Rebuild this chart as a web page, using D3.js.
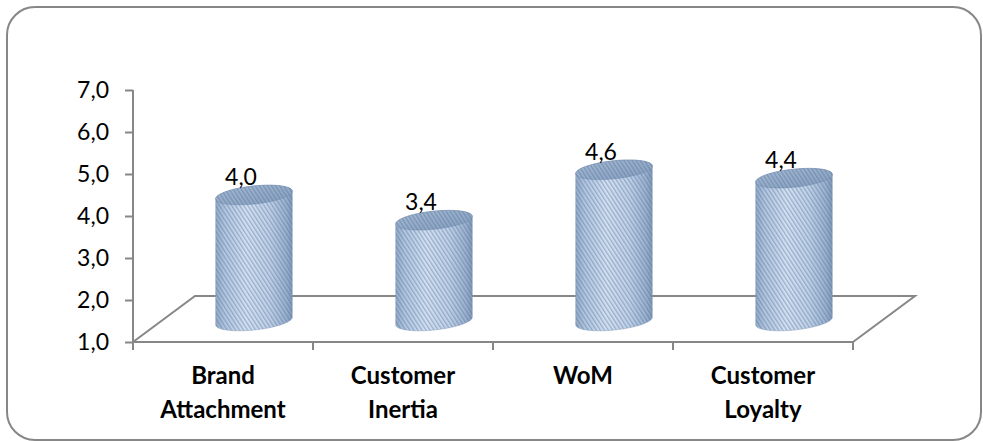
<!DOCTYPE html>
<html>
<head>
<meta charset="utf-8">
<script src="https://cdn.jsdelivr.net/npm/d3@7/dist/d3.min.js"></script>
<style>
  html, body { margin: 0; padding: 0; background: #fff; }
  svg { display: block; }
  text { font-family: Lato, "Open Sans", sans-serif; fill: #000; }
</style>
</head>
<body>
<svg id="chart" width="983" height="441"></svg>
<script>
// Mean scores per construct
const categories = [["Brand", "Attachment"], ["Customer", "Inertia"], ["WoM"], ["Customer", "Loyalty"]];
const values = [4.0, 3.4, 4.6, 4.4];
const yTicks = [1, 2, 3, 4, 5, 6, 7];

const svg = d3.select("#chart");
const fmt = v => d3.format(".1f")(v).replace(".", ",");

// Front plane of the 3D plot area and the depth offset of the floor
const plot = { left: 133, right: 853, top: 90, bottom: 342 };
const depth = { dx: 62, dy: -46 };
const mid = { dx: depth.dx / 2, dy: -21 };

const x = d3.scaleBand().domain(d3.range(categories.length)).range([plot.left, plot.right]).padding(0);
const y = d3.scaleLinear().domain([1, 7]).range([plot.bottom, plot.top]);

// Chart frame
svg.append("rect")
  .attr("x", 7).attr("y", 7).attr("width", 974).attr("height", 433)
  .attr("rx", 28).attr("ry", 28)
  .attr("fill", "none").attr("stroke", "#878787").attr("stroke-width", 2);

const defs = svg.append("defs");

// Cylinder side shading
const side = defs.append("linearGradient").attr("id", "side").attr("x1", 0).attr("x2", 1).attr("y1", 0).attr("y2", 0);
[[0, "#94abc8"], [0.12, "#b1c6e0"], [0.4, "#d2e0f2"], [0.7, "#bfd1e8"], [0.92, "#9ab1ce"], [1, "#8199b9"]]
  .forEach(([o, c]) => side.append("stop").attr("offset", o).attr("stop-color", c));

const cap = defs.append("linearGradient").attr("id", "cap").attr("x1", 0).attr("x2", 1).attr("y1", 0).attr("y2", 1);
[[0, "#a5bad4"], [1, "#869fbf"]]
  .forEach(([o, c]) => cap.append("stop").attr("offset", o).attr("stop-color", c));

// Diagonal hatching
const hatch = defs.append("pattern").attr("id", "hatch")
  .attr("patternUnits", "userSpaceOnUse").attr("width", 3.4).attr("height", 10)
  .attr("patternTransform", "rotate(-33)");
hatch.append("rect").attr("x", 0).attr("y", 0).attr("width", 1.3).attr("height", 10)
  .attr("fill", "#4f6b92").attr("fill-opacity", 0.4);

// Floor
const axisColor = "#878787";
const floor = svg.append("g").attr("fill", "none").attr("stroke", axisColor).attr("stroke-width", 2);
floor.append("path").attr("d", d3.line()([
  [plot.left, plot.bottom], [plot.left + depth.dx, plot.bottom + depth.dy],
  [plot.right + depth.dx, plot.bottom + depth.dy], [plot.right, plot.bottom]
]));

// Y axis
const yAxis = d3.axisLeft(y).tickValues(yTicks).tickFormat(fmt).tickSize(8).tickPadding(16);
const gy = svg.append("g").attr("transform", `translate(${plot.left},0)`).call(yAxis);
gy.select(".domain").attr("stroke", axisColor).attr("stroke-width", 2).attr("d", `M-0,${plot.top}V${plot.bottom}`);
gy.selectAll(".tick line").attr("stroke", axisColor).attr("stroke-width", 2);
gy.selectAll(".tick text").attr("font-size", 23).attr("font-family", "Lato, sans-serif").attr("fill", "#000");

// X axis (front edge of floor) with category ticks
const xTicks = x.domain().map(i => x(i)).concat([plot.right]);
const gx = svg.append("g");
gx.append("line").attr("x1", plot.left).attr("x2", plot.right).attr("y1", plot.bottom).attr("y2", plot.bottom)
  .attr("stroke", axisColor).attr("stroke-width", 2);
gx.selectAll("line.tick").data(xTicks).join("line").attr("class", "tick")
  .attr("x1", d => d).attr("x2", d => d).attr("y1", plot.bottom).attr("y2", plot.bottom + 8)
  .attr("stroke", axisColor).attr("stroke-width", 2);

const catLabels = svg.append("g").selectAll("text").data(categories).join("text")
  .attr("x", (d, i) => x(i) + x.bandwidth() / 2)
  .attr("y", 384)
  .attr("text-anchor", "middle").attr("font-weight", "bold").attr("font-size", 24);
catLabels.selectAll("tspan").data(d => d).join("tspan")
  .attr("x", function () { return this.parentNode.getAttribute("x"); })
  .attr("dy", (d, j) => j === 0 ? 0 : 34)
  .text(d => d);

// Cylinders
const rx = 38.5, ry = 9, tilt = -6 * Math.PI / 180;
function ellipsePoint(cx, cy, t) {
  const ex = rx * Math.cos(t), ey = ry * Math.sin(t);
  return [cx + ex * Math.cos(tilt) - ey * Math.sin(tilt), cy + ex * Math.sin(tilt) + ey * Math.cos(tilt)];
}
function ellipsePath(cx, cy) {
  return d3.line()(d3.range(0, 2 * Math.PI + 0.001, Math.PI / 60).map(t => ellipsePoint(cx, cy, t))) + "Z";
}
function bodyPath(cx, yTop, yBot) {
  // horizontal extremes of the tilted ellipse
  const t0 = Math.atan2(-ry * Math.sin(tilt), rx * Math.cos(tilt));
  const lower = d3.range(t0, t0 + Math.PI + 0.001, Math.PI / 60).map(t => ellipsePoint(cx, yBot, t));
  const upper = d3.range(t0 + Math.PI, t0 + 2 * Math.PI + 0.001, Math.PI / 60).map(t => ellipsePoint(cx, yTop, t));
  return d3.line()(lower.concat(upper)) + "Z";
}

const bars = svg.append("g").selectAll("g").data(values).join("g");
bars.each(function (v, i) {
  const g = d3.select(this);
  const cx = x(i) + x.bandwidth() / 2 + mid.dx;
  const yTop = y(v) + mid.dy, yBot = y(1) + mid.dy;
  const body = bodyPath(cx, yTop, yBot);
  g.append("path").attr("d", body).attr("fill", "url(#side)");
  g.append("path").attr("d", body).attr("fill", "url(#hatch)");
  g.append("path").attr("d", body).attr("fill", "none").attr("stroke", "#7d94b3").attr("stroke-opacity", 0.5).attr("stroke-width", 0.8);
  const top = ellipsePath(cx, yTop);
  g.append("path").attr("d", top).attr("fill", "url(#cap)");
  g.append("path").attr("d", top).attr("fill", "url(#hatch)");
  g.append("path").attr("d", top).attr("fill", "none").attr("stroke", "#6f88aa").attr("stroke-opacity", 0.6).attr("stroke-width", 0.8);
  g.append("text")
    .attr("x", cx - 13).attr("y", yTop - ry - 1)
    .attr("text-anchor", "middle").attr("font-size", 23)
    .text(fmt(v));
});
</script>
</body>
</html>
